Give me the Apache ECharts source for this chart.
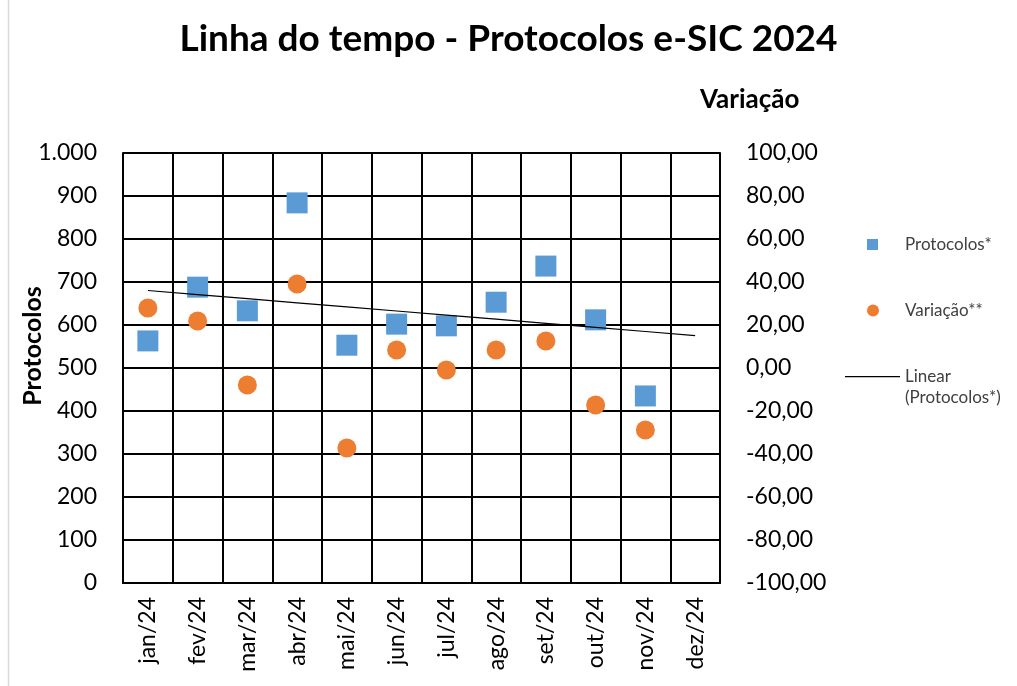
<!DOCTYPE html>
<html>
<head>
<meta charset="utf-8">
<style>
html,body{margin:0;padding:0;background:#fff}
#chart{width:1017px;height:686px}
</style>
<script src="https://cdn.jsdelivr.net/npm/echarts@6/dist/echarts.min.js"></script>
</head>
<body>
<div id="chart"></div>
<script>
var meses = ['jan/24','fev/24','mar/24','abr/24','mai/24','jun/24','jul/24','ago/24','set/24','out/24','nov/24','dez/24'];
var protocolos = [563, 688, 633, 884, 553, 602, 598, 653, 737, 612, 435, null];
var variacao = [27.9, 21.9, -7.9, 39.1, -37.2, 8.4, -0.9, 8.4, 12.6, -17.2, -28.8, null];

// tendencia linear (minimos quadrados) sobre os meses com dados
var xs = [], ys = [];
protocolos.forEach(function (v, i) { if (v != null) { xs.push(i); ys.push(v); } });
var mx = xs.reduce(function (a, b) { return a + b; }, 0) / xs.length;
var my = ys.reduce(function (a, b) { return a + b; }, 0) / ys.length;
var sxy = 0, sxx = 0;
for (var k = 0; k < xs.length; k++) { sxy += (xs[k] - mx) * (ys[k] - my); sxx += (xs[k] - mx) * (xs[k] - mx); }
var slope = sxy / sxx;
var tendencia = meses.map(function (m, i) { return +(my + slope * (i - mx)).toFixed(2); });

var fonte = 'Lato, "Liberation Sans", sans-serif';
var chart = echarts.init(document.getElementById('chart'));
var option = {
    animation: false,
    textStyle: { fontFamily: fonte },
    title: {
        text: 'Linha do tempo - Protocolos e-SIC 2024',
        left: 'center',
        top: 16,
        textStyle: { fontFamily: fonte, fontSize: 37, fontWeight: 'bold', color: '#000' }
    },
    graphic: [{
        type: 'rect', silent: true,
        shape: { x: 8.5, y: -5, width: 1030, height: 700 },
        style: { fill: 'none', stroke: '#d9d9d9', lineWidth: 1.5 }
    }],
    legend: [{
        orient: 'vertical', left: 862, top: 231,
        data: [{ name: 'Protocolos*', icon: 'rect' }],
        itemWidth: 11, itemHeight: 11,
        textStyle: { fontSize: 17, color: '#404040', padding: [0, 0, 0, 22] }
    }, {
        orient: 'vertical', left: 862, top: 297,
        data: [{ name: 'Variação**', icon: 'circle' }],
        itemWidth: 12, itemHeight: 12,
        textStyle: { fontSize: 17, color: '#404040', padding: [0, 0, 0, 21] }
    }, {
        orient: 'vertical', left: 840, top: 361,
        data: [{ name: 'Linear (Protocolos*)', icon: 'path://M0,0L55,0L55,1.2L0,1.2Z M0,22L0.01,22L0.01,22.01Z' }],
        itemWidth: 55, itemHeight: 22,
        formatter: function (n) { return n.replace(' ', '\n'); },
        itemStyle: { color: '#000' },
        textStyle: { fontSize: 17, color: '#404040', lineHeight: 21 }
    }],
    grid: { left: 123, right: 297, top: 153, bottom: 103, containLabel: false, outerBoundsMode: 'none' },
    xAxis: {
        type: 'category',
        data: meses,
        boundaryGap: true,
        axisLine: { lineStyle: { color: '#000', width: 2 } },
        axisTick: { show: false },
        splitLine: { show: true, lineStyle: { color: '#000', width: 2 } },
        axisLabel: { rotate: 90, margin: 14, fontSize: 23, color: '#000', interval: 0 }
    },
    yAxis: [{
        type: 'value', min: 0, max: 1000, interval: 100,
        name: 'Protocolos', nameLocation: 'middle', nameGap: 78, nameMoveOverlap: false,
        nameTextStyle: { fontSize: 25, fontWeight: 'bold', color: '#000', padding: [0, 0, 0, 44] },
        axisLine: { show: true, lineStyle: { color: '#000', width: 2 } },
        axisTick: { show: false },
        splitLine: { show: true, lineStyle: { color: '#000', width: 2 } },
        axisLabel: {
            fontSize: 23, color: '#000', margin: 26,
            formatter: function (v) { return v >= 1000 ? '1.000' : String(v); }
        }
    }, {
        type: 'value', min: -100, max: 100, interval: 20, position: 'right',
        name: 'Variação', nameLocation: 'end', nameGap: 40,
        nameTextStyle: { fontSize: 26, fontWeight: 'bold', color: '#000', align: 'left', verticalAlign: 'bottom', padding: [0, 0, 0, -20] },
        axisLine: { show: true, lineStyle: { color: '#000', width: 2 } },
        axisTick: { show: false },
        splitLine: { show: false },
        axisLabel: {
            fontSize: 23, color: '#000', margin: 26,
            formatter: function (v) { return v.toFixed(2).replace('.', ','); }
        }
    }],
    series: [{
        name: 'Protocolos*', type: 'scatter', yAxisIndex: 0,
        symbol: 'rect', symbolSize: 21,
        itemStyle: { color: '#5B9BD5', opacity: 1 },
        data: protocolos, z: 3
    }, {
        name: 'Variação**', type: 'scatter', yAxisIndex: 1,
        symbol: 'circle', symbolSize: 19,
        itemStyle: { color: '#ED7D31', opacity: 1 },
        data: variacao, z: 3
    }, {
        name: 'Linear (Protocolos*)', type: 'line', yAxisIndex: 0,
        showSymbol: false, symbol: 'none',
        lineStyle: { color: '#000', width: 1.2 },
        itemStyle: { color: '#000' },
        data: tendencia, z: 4
    }]
};
chart.setOption(option);
</script>
</body>
</html>
